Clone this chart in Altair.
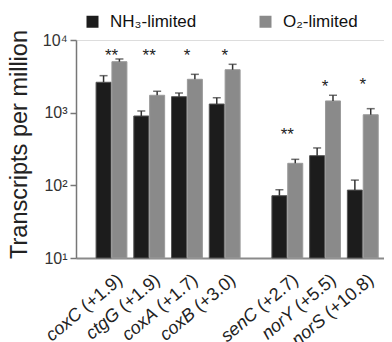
import altair as alt
import pandas as pd

# ---- data ----
genes = ["coxC", "ctgG", "coxA", "coxB", "senC", "norY", "norS"]
folds = ["(+1.9)", "(+1.9)", "(+1.7)", "(+3.0)", "(+2.7)", "(+5.5)", "(+10.8)"]
series = ["NH₃-limited", "O₂-limited"]
nh3_tpm = [2620, 900, 1660, 1315, 72, 256, 86]
nh3_err = [3230, 1055, 1865, 1605, 87, 327, 118]
o2_tpm = [5030, 1735, 2880, 3900, 201, 1450, 937]
o2_err = [5480, 1970, 3370, 4630, 228, 1735, 1135]
stars = ["**", "**", "*", "*", "**", "*", "*"]
star_tpm = [6950, 6950, 6950, 6950, 569, 2600, 2775]
y_ticks = [10, 100, 1000, 10000]
y_tick_labels = ["10¹", "10²", "10³", "10⁴"]

# ---- layout ----
W, H = 308, 218
FONT = "Liberation Sans"
GAP = 0.66      # extra space between the two gene clusters (in group steps)
OFF = 0.21      # bar offset from group centre (in group steps)
pos = [i + (GAP if i >= 4 else 0) for i in range(len(genes))]

rows = []
for i, g in enumerate(genes):
    for s, v, e, o in ((series[0], nh3_tpm, nh3_err, -OFF), (series[1], o2_tpm, o2_err, OFF)):
        rows.append(dict(gene=g, series=s, tpm=v[i], err=e[i], x=pos[i] + o))
bars_df = pd.DataFrame(rows)
lab_df = pd.DataFrame(dict(gene=genes, fold=folds, pos=pos, star=stars, star_tpm=star_tpm))

xs = alt.Scale(domain=[-0.808, -0.808 + W / 39.0], nice=False, zero=False)
ys = alt.Scale(type="log", domain=[10, 10000], nice=False)

label_expr = " : ".join(
    f"datum.value == {t} ? '{l}'" for t, l in zip(y_ticks[:-1], y_tick_labels[:-1])
) + f" : '{y_tick_labels[-1]}'"

xaxis = alt.Axis(title=None, labels=False, ticks=False, grid=False,
                 domainColor="#8a8a8a", domainWidth=2)
yaxis = alt.Axis(values=y_ticks, labelExpr=label_expr, labelFontSize=16, labelFont=FONT,
                 labelColor="#333", labelPadding=3, tickSize=6, tickColor="#777",
                 tickWidth=1.5, domainColor="#777", domainWidth=1.5, grid=False,
                 title="Transcripts per million", titleFontSize=23.5, titleFont=FONT,
                 titleFontWeight="normal", titleColor="#222", titleX=-57, titleY=104,
                 titleAlign="center", titleBaseline="middle", titleAngle=270)

base = alt.Chart(bars_df)
bars = base.mark_bar(size=15, strokeWidth=1).encode(
    x=alt.X("x:Q", scale=xs, axis=xaxis),
    y=alt.Y("tpm:Q", scale=ys, axis=yaxis),
    y2=alt.datum(10),
    color=alt.Color("series:N", scale=alt.Scale(domain=series, range=["#1c1c1c", "#8a8a8a"]),
                    legend=alt.Legend(orient="none", legendX=8, legendY=-27, direction="horizontal",
                                      title=None, symbolType="square", symbolSize=144,
                                      labelFontSize=17, labelFont=FONT, labelOffset=9,
                                      columnPadding=60, symbolStrokeWidth=0, labelColor="#111",
                                      padding=0)),
    stroke=alt.Stroke("series:N", scale=alt.Scale(domain=series, range=["#555", "#9a9a9a"]),
                      legend=None),
)
err_line = base.mark_rule(color="#333", strokeWidth=1.5).encode(
    x="x:Q", y="tpm:Q", y2="err:Q")
err_cap = base.mark_tick(orient="horizontal", size=8, thickness=1.5, color="#333").encode(
    x="x:Q", y="err:Q")

lab = alt.Chart(lab_df)
star_txt = lab.mark_text(fontSize=17, font=FONT, color="#222", baseline="alphabetic", dy=9.8).encode(
    x="pos:Q", y="star_tpm:Q", text="star:N")

LFS = 18
ANG = 320
DX, DY = 9.2, 7.7
paren_txt = lab.mark_text(fontSize=LFS, font=FONT, color="#222", align="right",
                          baseline="alphabetic", angle=ANG, dx=DX, dy=DY).encode(
    x="pos:Q", y=alt.value(H + 24), text="fold:N")

CHAR_EM = {"(": 0.333, ")": 0.333, "+": 0.584, ".": 0.278, " ": 0.278}
def em_width(s):
    return sum(CHAR_EM.get(c, 0.556) for c in s)

gene_layers = []
for w in sorted(set(em_width(" " + f) for f in folds)):
    sel = [g for g, f in zip(genes, folds) if em_width(" " + f) == w]
    gene_layers.append(
        lab.transform_filter(alt.FieldOneOfPredicate(field="gene", oneOf=sel)).mark_text(
            fontSize=LFS, font=FONT, color="#222", align="right", baseline="alphabetic",
            angle=ANG, fontStyle="italic", dx=DX - w * LFS, dy=DY).encode(
            x="pos:Q", y=alt.value(H + 24), text="gene:N"))

chart = alt.layer(bars, err_line, err_cap, star_txt, paren_txt, *gene_layers).properties(
    width=W, height=H,
    autosize=alt.AutoSizeParams(type="none"),
    padding={"left": 68, "top": 32, "right": 0, "bottom": 84},
).configure_view(stroke=None).configure(background="white")

chart.save("out.html", embed_options={"renderer": "svg", "actions": False})
